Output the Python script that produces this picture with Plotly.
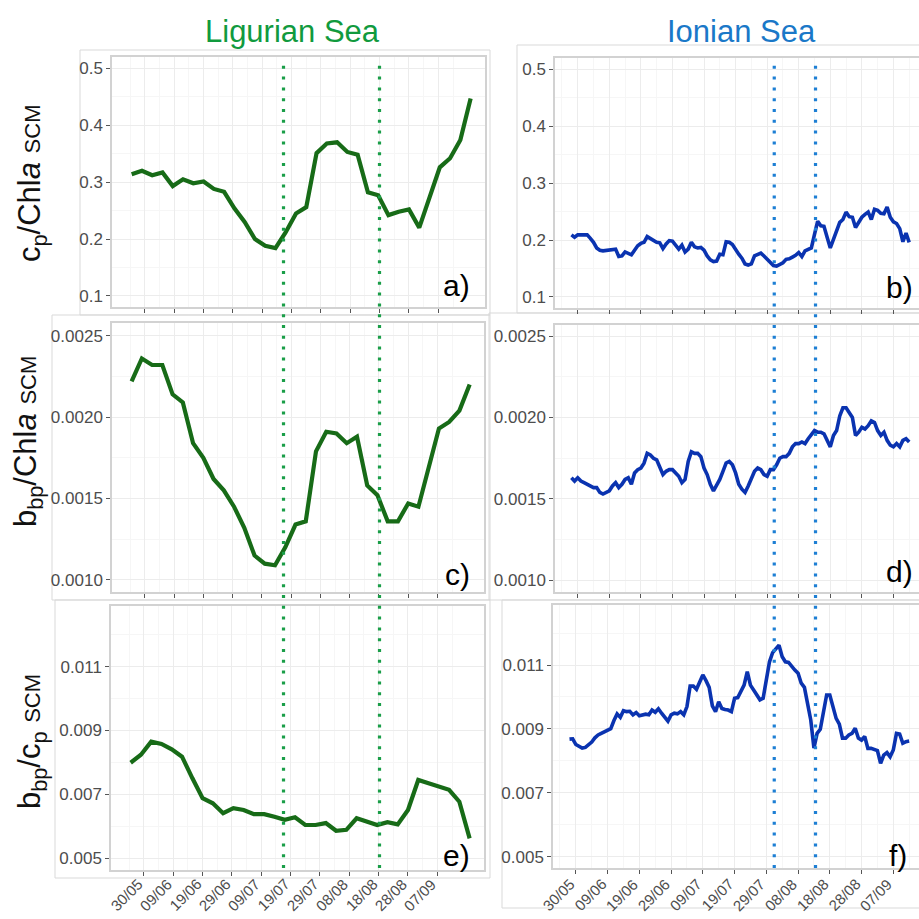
import pandas as pd
import plotly.graph_objects as go

# ---------------- data ----------------
# Ligurian Sea float: one profile every 3.5 days
lig_start = "2013-05-25 12:00"
lig_n = 34
lig_cp_chla = [0.314, 0.320, 0.312, 0.317, 0.293, 0.305, 0.298, 0.301, 0.288, 0.283,
               0.254, 0.230, 0.200, 0.188, 0.184, 0.212, 0.245, 0.256, 0.351, 0.368,
               0.370, 0.353, 0.348, 0.282, 0.277, 0.242, 0.248, 0.252, 0.220, 0.272,
               0.326, 0.342, 0.374, 0.447]
lig_bbp_chla = [0.00222, 0.00236, 0.00232, 0.00232, 0.00214, 0.00209, 0.00184, 0.00175,
                0.00162, 0.00155, 0.00145, 0.00132, 0.00115, 0.00110, 0.00109, 0.00120,
                0.00134, 0.00136, 0.00179, 0.00191, 0.00190, 0.00184, 0.00188, 0.00158,
                0.00152, 0.00136, 0.00136, 0.00147, 0.00145, 0.00170, 0.00193, 0.00197,
                0.00204, 0.00220]
lig_bbp_cp = [0.00799, 0.00824, 0.00865, 0.00858, 0.00841, 0.00818, 0.00751, 0.00688,
              0.00672, 0.00641, 0.00657, 0.00651, 0.00638, 0.00638, 0.00630, 0.00620,
              0.00628, 0.00604, 0.00604, 0.00610, 0.00586, 0.00589, 0.00625, 0.00613,
              0.00604, 0.00613, 0.00606, 0.00651, 0.00745, 0.00735, 0.00724, 0.00714,
              0.00677, 0.00562]

# Ionian Sea float: daily profiles
ion_start = "2013-05-28"
ion_n = 108
ion_cp_chla = [0.209, 0.205, 0.209, 0.209, 0.209, 0.209, 0.203, 0.196, 0.186, 0.182,
               0.181, 0.182, 0.183, 0.184, 0.184, 0.171, 0.172, 0.179, 0.176, 0.174,
               0.182, 0.190, 0.194, 0.196, 0.206, 0.203, 0.200, 0.196, 0.195, 0.185,
               0.193, 0.199, 0.198, 0.192, 0.184, 0.191, 0.179, 0.184, 0.196, 0.188,
               0.186, 0.187, 0.182, 0.172, 0.165, 0.162, 0.163, 0.175, 0.174, 0.197,
               0.196, 0.192, 0.182, 0.175, 0.168, 0.158, 0.156, 0.158, 0.172, 0.175,
               0.177, 0.172, 0.166, 0.160, 0.155, 0.154, 0.157, 0.160, 0.166, 0.167,
               0.170, 0.173, 0.178, 0.171, 0.181, 0.184, 0.186, 0.210, 0.233, 0.225,
               0.224, 0.205, 0.186, 0.201, 0.218, 0.231, 0.236, 0.249, 0.241, 0.240,
               0.222, 0.230, 0.240, 0.245, 0.249, 0.236, 0.254, 0.252, 0.247, 0.246,
               0.258, 0.240, 0.232, 0.229, 0.220, 0.197, 0.212, 0.196]
ion_bbp_chla = [0.00163, 0.00161, 0.00163, 0.00161, 0.00160, 0.00159, 0.00158, 0.00157, 0.00157, 0.00154,
                0.00153, 0.00154, 0.00155, 0.00158, 0.00160, 0.00157, 0.00159, 0.00162, 0.00163, 0.00159,
                0.00166, 0.00168, 0.00169, 0.00172, 0.00178, 0.00177, 0.00175, 0.00174, 0.00170, 0.00165,
                0.00167, 0.00168, 0.00168, 0.00166, 0.00164, 0.00160, 0.00162, 0.00173, 0.00179, 0.00178,
                0.00178, 0.00176, 0.00169, 0.00165, 0.00159, 0.00155, 0.00158, 0.00162, 0.00167, 0.00172,
                0.00173, 0.00171, 0.00166, 0.00159, 0.00156, 0.00154, 0.00158, 0.00163, 0.00167, 0.00169,
                0.00168, 0.00165, 0.00164, 0.00168, 0.00168, 0.00171, 0.00175, 0.00176, 0.00176, 0.00178,
                0.00182, 0.00184, 0.00184, 0.00185, 0.00184, 0.00187, 0.00190, 0.00192, 0.00191, 0.00191,
                0.00190, 0.00186, 0.00182, 0.00189, 0.00192, 0.00201, 0.00206, 0.00206, 0.00203, 0.00200,
                0.00189, 0.00191, 0.00194, 0.00193, 0.00195, 0.00198, 0.00197, 0.00192, 0.00189, 0.00191,
                0.00186, 0.00183, 0.00182, 0.00184, 0.00182, 0.00186, 0.00187, 0.00185]
ion_bbp_cp = [0.00868, 0.00869, 0.00851, 0.00844, 0.00840, 0.00842, 0.00849, 0.00859, 0.00872, 0.00881,
              0.00886, 0.00890, 0.00897, 0.00901, 0.00926, 0.00947, 0.00936, 0.00957, 0.00954, 0.00955,
              0.00944, 0.00951, 0.00941, 0.00944, 0.00946, 0.00944, 0.00959, 0.00952, 0.00963, 0.00949,
              0.00935, 0.00924, 0.00944, 0.00949, 0.00947, 0.00954, 0.00944, 0.00970, 0.01034, 0.01034,
              0.01024, 0.01048, 0.01069, 0.01051, 0.01030, 0.00972, 0.00954, 0.00985, 0.00964, 0.00961,
              0.00959, 0.00954, 0.00996, 0.00998, 0.01017, 0.01037, 0.01079, 0.01037, 0.01022, 0.01006,
              0.00991, 0.00996, 0.01053, 0.01110, 0.01139, 0.01152, 0.01162, 0.01126, 0.01110, 0.01108,
              0.01095, 0.01084, 0.01074, 0.01043, 0.01030, 0.00980, 0.00928, 0.00840, 0.00886, 0.00899,
              0.00954, 0.01006, 0.01006, 0.00964, 0.00933, 0.00915, 0.00871, 0.00871, 0.00881, 0.00886,
              0.00902, 0.00871, 0.00865, 0.00876, 0.00839, 0.00839, 0.00836, 0.00832, 0.00792, 0.00818,
              0.00826, 0.00813, 0.00834, 0.00886, 0.00884, 0.00855, 0.00860, 0.00862]

# event dates marked by dotted vertical lines
lig_events = ["2013-07-16 14:00", "2013-08-18 07:00"]
ion_events = ["2013-07-31 12:00", "2013-08-13 12:00"]

tick_labels = ["30/05", "09/06", "19/06", "29/06", "09/07", "19/07",
               "29/07", "08/08", "18/08", "28/08", "07/09"]
ytick_ratio_cp = [0.1, 0.2, 0.3, 0.4, 0.5]
ytick_ratio_bbp = [0.0010, 0.0015, 0.0020, 0.0025]
ytick_bbp_cp = [0.005, 0.007, 0.009, 0.011]

# ---------------- helpers ----------------
W = H = 919
FONT = "Liberation Sans, Arial, Helvetica, sans-serif"
GREEN_LINE = "#176b17"
GREEN_DOT = "#1a9e48"
GREEN_TITLE = "#119a3e"
BLUE_LINE = "#0a33b0"
BLUE_DOT = "#1d7fd4"
BLUE_TITLE = "#1a78c8"
GRID = "#ececec"
GRID_MINOR = "#f6f6f6"
BORDER = "#d2d2d2"
TICK_GREY = "#4d4d4d"


def fx(p):
    return p / W


def fy(p):
    return 1 - p / H


lig_dates = pd.date_range(lig_start, periods=lig_n, freq="84h")
ion_dates = pd.date_range(ion_start, periods=ion_n, freq="D")
tick_dates = [pd.to_datetime(t + "/2013", format="%d/%m/%Y") for t in tick_labels]
minor_dates = [tick_dates[0] - pd.Timedelta(days=5)] + [d + pd.Timedelta(days=5) for d in tick_dates]
base = tick_dates[0]


def drange(d0, d1):
    return [base + pd.Timedelta(days=d0), base + pd.Timedelta(days=d1)]


fig = go.Figure()

panels = [
    # name, dates, values, colour, width, x-domain px, y-domain px (top, bottom), y-range, yticks, fmt
    ("a", lig_dates, lig_cp_chla, GREEN_LINE, 4.2, (112, 485), (57, 307), (0.0805, 0.5199), ytick_ratio_cp, ".1f"),
    ("b", ion_dates, ion_cp_chla, BLUE_LINE, 3.6, (555, 919), (58, 308), (0.0805, 0.5199), ytick_ratio_cp, ".1f"),
    ("c", lig_dates, lig_bbp_chla, GREEN_LINE, 4.2, (112, 484), (323, 592), (0.000926, 0.002578), ytick_ratio_bbp, ".4f"),
    ("d", ion_dates, ion_bbp_chla, BLUE_LINE, 3.6, (555, 919), (325, 592), (0.000929, 0.002568), ytick_ratio_bbp, ".4f"),
    ("e", lig_dates, lig_bbp_cp, GREEN_LINE, 4.2, (111, 484), (606, 870), (0.00463, 0.0129), ytick_bbp_cp, ".3f"),
    ("f", ion_dates, ion_bbp_cp, BLUE_LINE, 3.6, (553, 919), (605, 868), (0.004646, 0.012878), ytick_bbp_cp, ".3f"),
]

layout_axes = {}
for i, (name, dates, vals, col, lw, xd, yd, yr, yt, fmt) in enumerate(panels, start=1):
    sx = "" if i == 1 else str(i)
    left = name in ("a", "c", "e")
    fig.add_trace(go.Scatter(x=dates, y=vals, mode="lines",
                             line=dict(color=col, width=lw),
                             xaxis="x" + sx, yaxis="y" + sx, showlegend=False,
                             hoverinfo="skip"))
    # minor y gridlines halfway between the labelled ticks
    step = yt[1] - yt[0]
    yminor = [v + step / 2 for v in [yt[0] - step] + yt]
    xr = drange(-11.2, 115.9) if left else drange(-7.2, 108.1)
    layout_axes["xaxis" + sx] = dict(
        domain=[fx(xd[0]), fx(xd[1])], anchor="y" + sx, type="date", range=xr,
        automargin=False,
        tickmode="array", tickvals=tick_dates, showticklabels=False,
        ticks="outside", ticklen=4, tickwidth=1, tickcolor="#555555",
        showgrid=True, gridcolor=GRID, gridwidth=1,
        minor=dict(tickmode="array", tickvals=minor_dates, showgrid=True,
                   gridcolor=GRID_MINOR, gridwidth=0.6, ticks=""),
        showline=True, linecolor=BORDER, linewidth=1.5, mirror=True,
        zeroline=False,
    )
    layout_axes["yaxis" + sx] = dict(
        domain=[fy(yd[1]), fy(yd[0])], anchor="x" + sx, range=list(yr),
        automargin=False,
        tickmode="array", tickvals=yt, tickformat=fmt,
        tickfont=dict(family=FONT, size=17, color=TICK_GREY),
        ticks="outside", ticklen=4, tickwidth=1, tickcolor="#555555",
        showgrid=True, gridcolor=GRID, gridwidth=1,
        minor=dict(tickmode="array", tickvals=yminor, showgrid=True,
                   gridcolor=GRID_MINOR, gridwidth=0.6, ticks=""),
        showline=True, linecolor=BORDER, linewidth=1.5, mirror=True,
        zeroline=False,
    )

shapes = []
# light frames around each panel block
for (x0, y0, x1, y1) in [(80, 50, 490, 315), (517, 45, 930, 313),
                         (52, 315, 490, 600), (489, 313, 930, 600),
                         (55, 600, 490, 878), (502, 600, 930, 908)]:
    shapes.append(dict(type="rect", xref="paper", yref="paper",
                       x0=fx(x0), x1=fx(x1), y0=fy(y1), y1=fy(y0),
                       line=dict(color="#d9d9d9", width=1), layer="below"))
# dotted event lines spanning the three panels of each column
for ev in lig_events:
    shapes.append(dict(type="line", xref="x5", yref="paper", x0=ev, x1=ev,
                       y0=fy(868), y1=fy(60),
                       line=dict(color=GREEN_DOT, width=3.2, dash="3px,7.8px")))
for ev in ion_events:
    shapes.append(dict(type="line", xref="x6", yref="paper", x0=ev, x1=ev,
                       y0=fy(868), y1=fy(60),
                       line=dict(color=BLUE_DOT, width=3.2, dash="3px,7.8px")))

annotations = [
    dict(text="Ligurian Sea", x=fx(292), y=fy(31), font=dict(family=FONT, size=31, color=GREEN_TITLE)),
    dict(text="Ionian Sea", x=fx(741), y=fy(31), font=dict(family=FONT, size=31, color=BLUE_TITLE)),
]
scm = "<span style='font-size:22px'>SCM</span>"
for txt, x, y in [("c<sub>p</sub>/Chl<i>a</i> " + scm, 32, 184),
                  ("b<sub>bp</sub>/Chl<i>a</i> " + scm, 28, 442),
                  ("b<sub>bp</sub>/c<sub>p</sub> " + scm, 32, 742)]:
    annotations.append(dict(text=txt, x=fx(x), y=fy(y), textangle=-90,
                            font=dict(family=FONT, size=31, color="#111111")))
for letter, x, y in [("a)", 456, 286), ("b)", 899, 287), ("c)", 457, 574),
                     ("d)", 899, 571), ("e)", 456, 855), ("f)", 898, 855)]:
    annotations.append(dict(text=letter, x=fx(x), y=fy(y),
                            font=dict(family=FONT, size=30, color="#000000")))
for a in annotations:
    a.update(xref="paper", yref="paper", showarrow=False, xanchor="center", yanchor="middle")

# slanted date labels under the two bottom panels, ending at each tick
for xref in ("x5", "x6"):
    for d, lab in zip(tick_dates, tick_labels):
        annotations.append(dict(text=lab, x=d, xref=xref, y=fy(874), yref="paper",
                                textangle=-45, xanchor="right", yanchor="top",
                                xshift=4, showarrow=False, borderpad=0,
                                font=dict(family=FONT, size=15, color=TICK_GREY)))

fig.update_layout(
    width=W, height=H, margin=dict(l=0, r=0, t=0, b=0, autoexpand=False),
    paper_bgcolor="white", plot_bgcolor="white",
    font=dict(family=FONT),
    shapes=shapes, annotations=annotations, showlegend=False,
    **layout_axes,
)

fig.write_html("out.html")
